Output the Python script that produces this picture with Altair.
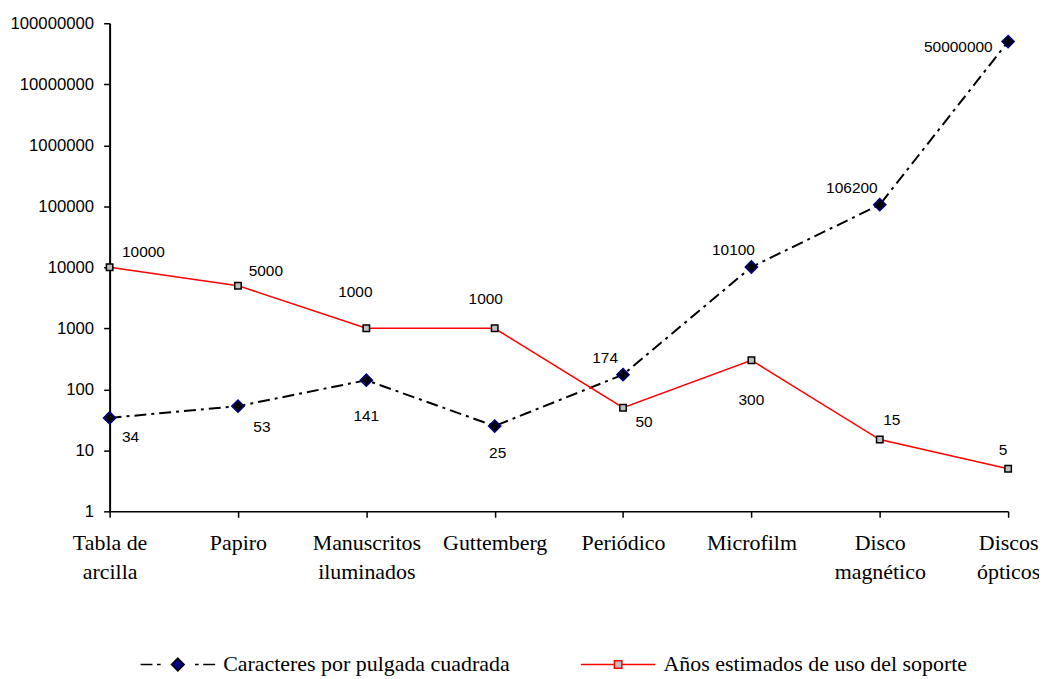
import altair as alt
import pandas as pd

# ---- data ----
categories = ["Tabla de arcilla", "Papiro", "Manuscritos iluminados", "Guttemberg",
              "Periódico", "Microfilm", "Disco magnético", "Discos ópticos"]
caracteres = [34, 53, 141, 25, 174, 10100, 106200, 50000000]
anios = [10000, 5000, 1000, 1000, 50, 300, 15, 5]
serie_names = ["Caracteres por pulgada cuadrada", "Años estimados de uso del soporte"]
y_ticks = [1, 10, 100, 1000, 10000, 100000, 1000000, 10000000, 100000000]
x_label_lines = {
    "Tabla de arcilla": ["Tabla de", "arcilla"],
    "Papiro": ["Papiro"],
    "Manuscritos iluminados": ["Manuscritos", "iluminados"],
    "Guttemberg": ["Guttemberg"],
    "Periódico": ["Periódico"],
    "Microfilm": ["Microfilm"],
    "Disco magnético": ["Disco", "magnético"],
    "Discos ópticos": ["Discos", "ópticos"],
}

# ---- styling: data-label offsets (pixels) ----
car_label_offsets = [(21, 19), (24, 21), (0, 36), (3, 27), (-18, -17), (-18, -17), (-28, -17), (-50, 5)]
anio_label_offsets = [(34, -15), (28, -15), (-11, -36), (-9, -29), (21, 14), (0, 40), (12, -20), (-5, -19)]

rows = []
for c, v in zip(categories, caracteres):
    rows.append({"cat": c, "serie": serie_names[0], "valor": v})
for c, v in zip(categories, anios):
    rows.append({"cat": c, "serie": serie_names[1], "valor": v})
df = pd.DataFrame(rows)

SERIF = "Liberation Serif"
SANS = "Liberation Sans"

label_expr = ""
for k, lines in x_label_lines.items():
    arr = "[" + ",".join("'" + s + "'" for s in lines) + "]"
    label_expr += f"datum.label == '{k}' ? {arr} : "
label_expr += "datum.label"

x_enc = alt.X(
    "cat:N", sort=categories,
    scale=alt.Scale(type="point", padding=0),
    axis=alt.Axis(title=None, labelExpr=label_expr, labelAngle=0, labelFont=SERIF,
                  labelFontSize=22, labelLineHeight=29, labelBaseline="top",
                  labelPadding=15, tickSize=6, tickColor="black", tickWidth=1.5,
                  domainColor="black", domainWidth=1.5, labelColor="black", grid=False),
)
y_enc = alt.Y(
    "valor:Q",
    scale=alt.Scale(type="log", domain=[1, 100000000]),
    axis=alt.Axis(title=None, values=y_ticks, format="d", labelFont=SANS, labelFontSize=16.8,
                  labelPadding=10, tickSize=6, tickColor="black", tickWidth=1.5,
                  domainColor="black", domainWidth=2, labelColor="black", grid=False),
)

base = alt.Chart(df)

line_car = base.transform_filter(alt.datum.serie == serie_names[0]).mark_line(
    color="black", strokeWidth=2, strokeDash=[12, 5, 3, 5]
).encode(x=x_enc, y=y_enc)
line_anio = base.transform_filter(alt.datum.serie == serie_names[1]).mark_line(
    color="#FF0000", strokeWidth=1.5
).encode(x=x_enc, y=y_enc)

pts_car = base.transform_filter(alt.datum.serie == serie_names[0]).mark_point(
    shape="diamond", filled=True, fill="black", stroke="#000080", strokeWidth=1.5,
    size=150, opacity=1
).encode(x=x_enc, y=y_enc)
pts_anio = base.transform_filter(alt.datum.serie == serie_names[1]).mark_point(
    shape="square", filled=True, fill="#C0C0C0", stroke="black", strokeWidth=1.5,
    size=42, opacity=1
).encode(x=x_enc, y=y_enc)

text_layers = []
for serie, vals, offs in [(serie_names[0], caracteres, car_label_offsets),
                          (serie_names[1], anios, anio_label_offsets)]:
    for c, v, (dx, dy) in zip(categories, vals, offs):
        t = base.transform_filter(
            (alt.datum.serie == serie) & (alt.datum.cat == c)
        ).mark_text(font=SANS, fontSize=15.5, color="black", dx=dx, dy=dy,
                    align="center", baseline="middle").encode(
            x=x_enc, y=y_enc, text=alt.Text("valor:Q", format="d"))
        text_layers.append(t)

# legend-only layer (no rows drawn)
path_car = ("M-1,0H-0.68 M-0.56,0H-0.46 M0,-0.17L0.17,0L0,0.17L-0.17,0Z "
            "M0.46,0H0.56 M0.68,0H1")
path_anio = "M-1,0H-0.1 M0.1,0H1 M-0.1,-0.1H0.1V0.1H-0.1Z"
leg = alt.Legend(title=None, orient="none", legendX=30, legendY=605, direction="horizontal",
                 columns=2, columnPadding=68, labelFont=SERIF, labelFontSize=22,
                 labelColor="black", labelOffset=7, symbolSize=5600, symbolStrokeWidth=1.5,
                 labelLimit=500, padding=0)
legend_layer = base.transform_filter("false").mark_point(filled=True, opacity=1).encode(
    shape=alt.Shape("serie:N", scale=alt.Scale(domain=serie_names, range=[path_car, path_anio]), legend=leg),
    fill=alt.Fill("serie:N", scale=alt.Scale(domain=serie_names, range=["#000080", "#C0C0C0"]), legend=leg),
    stroke=alt.Stroke("serie:N", scale=alt.Scale(domain=serie_names, range=["black", "#FF0000"]), legend=leg),
)

chart = alt.layer(line_car, line_anio, pts_car, pts_anio, *text_layers, legend_layer).properties(
    width=902, height=490,
    padding={"left": 102, "top": 14, "right": 31, "bottom": 166},
    autosize=alt.AutoSizeParams(type="none"),
    background="white",
).configure_view(stroke=None)

chart.save("out.html", embed_options={"renderer": "svg", "actions": False})
